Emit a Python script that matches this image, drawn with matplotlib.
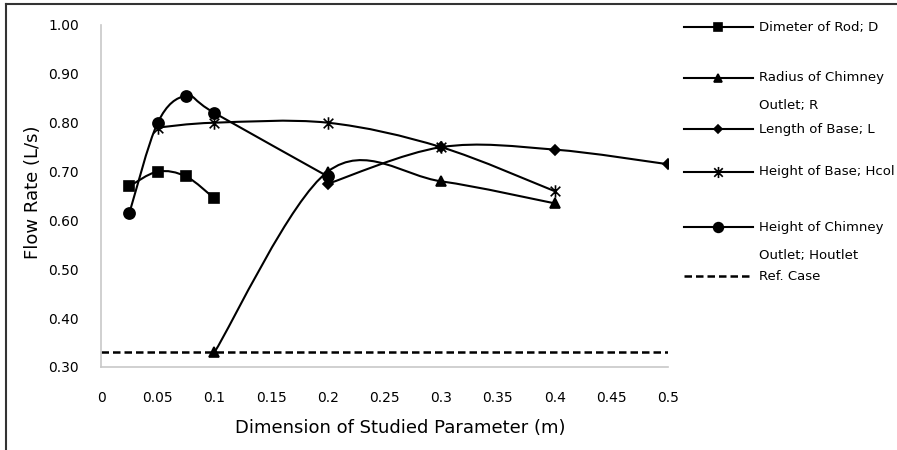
import numpy as np
import matplotlib
matplotlib.use("Agg")
import matplotlib.pyplot as plt
from matplotlib.path import Path
from matplotlib.patches import PathPatch
from matplotlib.lines import Line2D

# data
d_x = [0.025, 0.05, 0.075, 0.1]
d_y = [0.67, 0.70, 0.69, 0.645]

r_x = [0.1, 0.2, 0.3, 0.4]
r_y = [0.33, 0.70, 0.68, 0.635]

l_x = [0.2, 0.3, 0.4, 0.5]
l_y = [0.675, 0.75, 0.745, 0.715]

hcol_x = [0.05, 0.1, 0.2, 0.3, 0.4]
hcol_y = [0.79, 0.80, 0.80, 0.75, 0.66]

hout_x = [0.025, 0.05, 0.075, 0.1, 0.2]
hout_y = [0.615, 0.80, 0.855, 0.82, 0.69]

ref_x = [0, 0.5]
ref_y = [0.33, 0.33]

names = ["Dimeter of Rod; D", "Radius of Chimney", "Length of Base; L",
         "Height of Base; Hcol", "Height of Chimney", "Ref. Case"]
names2 = ["", "Outlet; R", "", "", "Outlet; Houtlet", ""]

x_ticks = [0, 0.05, 0.1, 0.15, 0.2, 0.25, 0.3, 0.35, 0.4, 0.45, 0.5]
x_labels = ["0", "0.05", "0.1", "0.15", "0.2", "0.25", "0.3", "0.35", "0.4", "0.45", "0.5"]
y_ticks = [0.3, 0.4, 0.5, 0.6, 0.7, 0.8, 0.9, 1.0]

# excel style asterisk: an X plus a vertical bar
star = Path([(-1, -1), (1, 1), (-1, 1), (1, -1), (0, -1.3), (0, 1.3)],
            [Path.MOVETO, Path.LINETO, Path.MOVETO, Path.LINETO, Path.MOVETO, Path.LINETO])
markers = ["s", "^", "D", star, "o"]
msizes = [7, 7, 5, 9, 8]


def smooth_path(xs, ys):
    # excel-like smoothed line: catmull-rom as cubic bezier
    p = np.column_stack([xs, ys]).astype(float)
    verts = [p[0]]
    codes = [Path.MOVETO]
    n = len(p)
    for i in range(n - 1):
        p0 = p[i - 1] if i > 0 else p[i]
        p1 = p[i]
        p2 = p[i + 1]
        p3 = p[i + 2] if i + 2 < n else p[i + 1]
        c1 = p1 + (p2 - p0) / 6.0
        c2 = p2 - (p3 - p1) / 6.0
        verts += [c1, c2, p2]
        codes += [Path.CURVE4] * 3
    return Path(verts, codes)


fig = plt.figure(figsize=(8.97, 4.5), dpi=100)
ax = fig.add_axes([101 / 897, 83 / 450, 567 / 897, 342 / 450])

series = [(d_x, d_y), (r_x, r_y), (l_x, l_y), (hcol_x, hcol_y), (hout_x, hout_y)]
for (xs, ys), m, ms in zip(series, markers, msizes):
    ax.add_patch(PathPatch(smooth_path(xs, ys), fill=False, edgecolor="black", lw=1.5))
    ax.plot(xs, ys, ls="none", marker=m, ms=ms, color="black", mew=1.2)

ax.plot(ref_x, ref_y, color="black", lw=1.8, ls=(0, (3, 1.6)))

ax.set_xlim(0, 0.5)
ax.set_ylim(0.3, 1.0)
ax.set_xticks(x_ticks)
ax.set_xticklabels(x_labels)
ax.set_yticks(y_ticks)
ax.set_yticklabels([f"{v:.2f}" for v in y_ticks])
ax.tick_params(length=0, labelsize=10)
ax.tick_params(axis="x", pad=17)
ax.tick_params(axis="y", pad=16)
for s in ["top", "right"]:
    ax.spines[s].set_visible(False)
for s in ["left", "bottom"]:
    ax.spines[s].set_color("#c8c8c8")
    ax.spines[s].set_linewidth(1.2)
ax.set_xlabel("Dimension of Studied Parameter (m)", fontsize=13)
ax.set_ylabel("Flow Rate (L/s)", fontsize=13)
ax.xaxis.set_label_coords(0.528, -0.152)
ax.yaxis.set_label_coords(-0.104, 0.512)

# legend drawn by hand (entries sit at uneven heights)
leg_y = [27, 78, 129, 172, 227, 276]
for i, yy in enumerate(leg_y):
    fy = 1 - yy / 450
    if i < 5:
        fig.add_artist(Line2D([684 / 897, 753 / 897], [fy, fy], color="black", lw=1.5,
                              transform=fig.transFigure))
        fig.add_artist(Line2D([718 / 897], [fy], color="black", ls="none",
                              marker=markers[i], ms=msizes[i] - 1, mew=1.2,
                              transform=fig.transFigure))
    else:
        fig.add_artist(Line2D([684 / 897, 753 / 897], [fy, fy], color="black", lw=1.8,
                              ls=(0, (3, 1.6)), transform=fig.transFigure))
    fig.text(759 / 897, fy, names[i], fontsize=9.5, va="center", ha="left")
    if names2[i]:
        fig.text(759 / 897, fy - 28 / 450, names2[i], fontsize=9.5, va="center", ha="left")

# page frame lines
fig.add_artist(Line2D([6 / 897, 1], [1 - 4 / 450, 1 - 4 / 450], color="#333333", lw=1.5,
                      transform=fig.transFigure))
fig.add_artist(Line2D([6 / 897, 6 / 897], [0, 1 - 4 / 450], color="#333333", lw=1.5,
                      transform=fig.transFigure))

fig.savefig("out.png", dpi=100)
